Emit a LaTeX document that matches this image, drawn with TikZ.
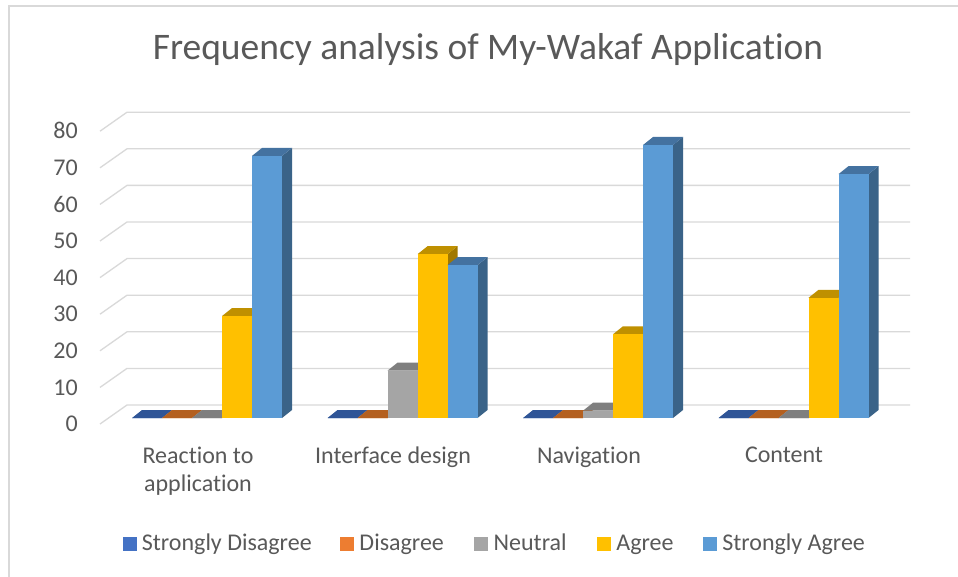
\documentclass[tikz,border=0pt]{standalone}
\usepackage{fontspec}
\setmainfont{Carlito}[Ligatures=NoCommon]
\usetikzlibrary{positioning}

\definecolor{txtgray}{HTML}{595959}
\definecolor{gridgray}{HTML}{D9D9D9}
% front, top and side of each series
\definecolor{sdFront}{HTML}{4472C4}\definecolor{sdTop}{HTML}{2F5597}\definecolor{sdSide}{HTML}{264478}
\definecolor{diFront}{HTML}{ED7D31}\definecolor{diTop}{HTML}{B4601F}\definecolor{diSide}{HTML}{9E531A}
\definecolor{neFront}{HTML}{A5A5A5}\definecolor{neTop}{HTML}{7F7F7F}\definecolor{neSide}{HTML}{6E6E6E}
\definecolor{agFront}{HTML}{FFC000}\definecolor{agTop}{HTML}{BF9000}\definecolor{agSide}{HTML}{A07800}
\definecolor{saFront}{HTML}{5B9BD5}\definecolor{saTop}{HTML}{4472A0}\definecolor{saSide}{HTML}{3A6388}

\tikzset{
  gridline/.style={draw=gridgray, line width=1.3pt},
  ticklabel/.style={text=txtgray, font=\fontsize{24}{28}\selectfont, inner sep=0pt,
    text height=15.5pt, text depth=0pt},
  catlabel/.style={text=txtgray, font=\fontsize{24}{28}\selectfont, align=center, inner sep=0pt},
  legsq/.style={minimum size=14pt, inner sep=0pt},
  legtxt/.style={text=txtgray, font=\fontsize{24}{28}\selectfont, inner sep=0pt,
    text height=16pt, text depth=4pt},
}

% #1 left x of front face, #2 value, #3 series prefix
\newcommand{\drawbar}[3]{%
  \pgfmathsetmacro{\ytop}{418-3.64*#2}
  \fill[#3Side] (#1+30,418) -- (#1+40,410) -- (#1+40,\ytop-8) -- (#1+30,\ytop) -- cycle;
  \fill[#3Top] (#1,\ytop) -- (#1+10,\ytop-8) -- (#1+40,\ytop-8) -- (#1+30,\ytop) -- cycle;
  \fill[#3Front] (#1,418) rectangle (#1+30,\ytop);
}

\begin{document}
\begin{tikzpicture}[x=1pt, y=-1pt]
  \useasboundingbox[fill=white] (0,0) rectangle (958,577);
  \draw[gridgray, line width=1.5pt] (9,590) -- (9,6) -- (970,6);

  \node[text=txtgray, font=\fontsize{37.5}{44}\selectfont] (title) at (488,50)
    {Frequency analysis of My-Wakaf Application};

  % wall grid and value axis
  \foreach \v in {0,10,...,80} {
    \pgfmathsetmacro{\yb}{405-3.66*\v}
    \draw[gridline] (100,\yb+19) -- (127,\yb) -- (910,\yb);
    \node[ticklabel, anchor=east] (y\v) at (78,\yb+19) {\v};
  }

  % bars, drawn left to right
  \foreach \cat/\sd/\di/\ne/\ag/\sa in {0/0/0/0/28/72, 1/0/0/13/45/42,
                                       2/0/0/2/23/75, 3/0/0/0/33/67} {
    \pgfmathsetmacro{\x}{132+195.5*\cat}
    \drawbar{\x}{\sd}{sd}
    \drawbar{\x+30}{\di}{di}
    \drawbar{\x+60}{\ne}{ne}
    \drawbar{\x+90}{\ag}{ag}
    \drawbar{\x+120}{\sa}{sa}
  }

  % categories
  \node[catlabel, anchor=north] (reaction) at (198,447) {Reaction to\\application};
  \node[catlabel, anchor=north] (interface) at (393,447) {Interface design};
  \node[catlabel, anchor=north] (navigation) at (589,447) {Navigation};
  \node[catlabel, anchor=north] (content) at (784,447) {Content};

  % legend
  \node[legsq, fill=sdFront] (lsd) at (129.5,544) {};
  \node[legtxt, right=5pt of lsd] (tsd) {Strongly Disagree};
  \node[legsq, fill=diFront, right=28pt of tsd] (ldi) {};
  \node[legtxt, right=5pt of ldi] (tdi) {Disagree};
  \node[legsq, fill=neFront, right=30pt of tdi] (lne) {};
  \node[legtxt, right=5pt of lne] (tne) {Neutral};
  \node[legsq, fill=agFront, right=30pt of tne] (lag) {};
  \node[legtxt, right=5pt of lag] (tag) {Agree};
  \node[legsq, fill=saFront, right=29pt of tag] (lsa) {};
  \node[legtxt, right=5pt of lsa] (tsa) {Strongly Agree};
\end{tikzpicture}
\end{document}
